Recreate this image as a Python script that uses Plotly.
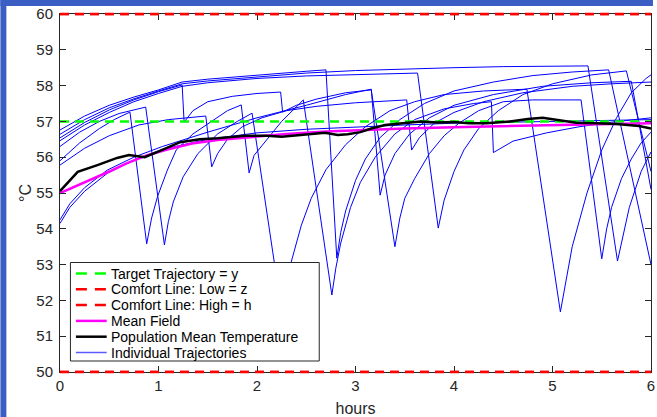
import plotly.graph_objects as go

# ---------------- data ----------------
x_ticks = [0, 1, 2, 3, 4, 5, 6]
y_ticks = [50, 51, 52, 53, 54, 55, 56, 57, 58, 59, 60]

target_level = 57.0
comfort_low = 50.0
comfort_high = 60.0
time_span = [0, 6]

legend_labels = ["Target Trajectory = y", "Comfort Line: Low = z", "Comfort Line: High = h",
                 "Mean Field", "Population Mean Temperature", "Individual Trajectories"]

mean_field_t = [0, 0.17, 0.33, 0.5, 0.67, 0.88, 1.1, 1.34, 1.6, 1.88, 2.3, 2.7, 3.02, 3.5, 4.0, 4.33, 5.0, 5.5, 6.0]
mean_field_T = [55.0, 55.2, 55.38, 55.6, 55.82, 56.05, 56.22, 56.38, 56.48, 56.55, 56.65, 56.72, 56.76, 56.8, 56.84, 56.86, 56.9, 56.92, 56.95]

pop_mean_t = [0, 0.08, 0.18, 0.38, 0.58, 0.7, 0.78, 0.86, 0.99, 1.12, 1.22, 1.42, 1.6, 1.88, 2.1, 2.25, 2.45, 2.69, 2.82, 2.92, 3.05, 3.16, 3.3, 3.5, 3.66, 3.83, 4.0, 4.15, 4.33, 4.57, 4.75, 4.9, 5.04, 5.24, 5.45, 5.65, 5.88, 6.0]
pop_mean_T = [55.05, 55.3, 55.59, 55.78, 55.98, 56.06, 56.04, 56.0, 56.15, 56.31, 56.42, 56.5, 56.53, 56.6, 56.6, 56.57, 56.62, 56.68, 56.62, 56.64, 56.7, 56.8, 56.9, 56.95, 57.0, 56.97, 56.98, 56.95, 56.95, 57.0, 57.07, 57.1, 57.05, 56.96, 56.95, 56.93, 56.87, 56.8]

traj1_t = [0, 0.25, 0.5, 0.75, 1.0, 1.24, 1.5, 2.0, 2.5, 2.70, 2.81, 2.85, 2.9, 3.0, 3.1, 3.25, 3.45, 3.7, 4.0, 4.4, 4.8, 5.2, 5.57, 6.0]
traj1_T = [56.76, 57.15, 57.45, 57.68, 57.88, 58.1, 58.18, 58.3, 58.4, 58.44, 53.18, 53.9, 54.5, 55.35, 55.95, 56.55, 57.05, 57.5, 57.85, 58.1, 58.28, 58.38, 58.44, 53.0]

traj2_t = [0, 0.25, 0.5, 0.75, 1.0, 1.24, 1.5, 2.0, 2.5, 3.0, 3.5, 4.0, 4.5, 5.36, 5.66, 5.72, 5.78, 5.84, 5.9, 6.0]
traj2_T = [56.64, 57.05, 57.38, 57.63, 57.85, 58.05, 58.13, 58.25, 58.35, 58.42, 58.47, 58.5, 58.53, 58.55, 53.1, 53.9, 54.6, 55.1, 55.6, 56.15]

traj3_t = [0, 0.25, 0.5, 0.75, 1.0, 1.24, 1.26, 1.35, 1.5, 1.75, 2.0, 2.24, 2.26, 2.4, 2.6, 2.9, 3.16, 3.40, 3.45, 3.5, 3.6, 3.75, 3.9, 4.05, 4.25, 4.5, 4.8, 5.29, 5.50, 5.55, 5.6, 5.7, 5.8, 5.9, 6.0]
traj3_T = [56.54, 56.97, 57.32, 57.6, 57.83, 58.02, 56.98, 57.3, 57.55, 57.7, 57.78, 57.82, 57.26, 57.45, 57.62, 57.8, 57.88, 53.5, 54.3, 54.85, 55.4, 56.1, 56.6, 56.95, 57.3, 57.55, 57.6, 57.6, 53.16, 54.0, 54.6, 55.4, 55.95, 56.4, 56.7]

traj4_t = [0, 0.25, 0.5, 0.75, 1.0, 1.24, 1.5, 2.0, 2.5, 3.0, 3.63, 3.84, 3.9, 4.0, 4.1, 4.25, 4.45, 4.7, 5.0, 5.4, 5.75, 6.0]
traj4_T = [56.46, 56.9, 57.25, 57.55, 57.78, 57.98, 58.08, 58.2, 58.27, 58.31, 58.35, 54.02, 54.8, 55.6, 56.2, 56.8, 57.3, 57.75, 58.05, 58.3, 58.41, 55.6]

traj5_t = [0, 0.2, 0.4, 0.6, 0.87, 1.06, 1.1, 1.15, 1.25, 1.4, 1.6, 1.8, 1.95, 2.26, 2.3, 2.35, 2.45, 2.55, 2.7, 2.9, 3.1, 3.35, 3.6, 3.9, 4.3, 4.74, 5.08, 5.2, 5.35, 5.5, 5.65, 5.8, 5.95, 6.0]
traj5_T = [56.3, 56.7, 57.0, 57.22, 57.4, 53.55, 54.2, 54.75, 55.45, 56.1, 56.65, 57.0, 57.23, 51.5, 52.4, 53.1, 54.1, 54.85, 55.65, 56.35, 56.85, 57.3, 57.55, 57.75, 57.85, 57.9, 51.68, 53.5, 55.0, 56.2, 57.1, 57.8, 58.2, 58.3]

traj6_t = [0, 0.2, 0.4, 0.55, 0.71, 0.88, 0.93, 0.99, 1.09, 1.18, 1.35, 1.51, 1.7, 1.84, 1.92, 1.97, 2.09, 2.25, 2.47, 2.76, 2.8, 2.85, 2.95, 3.05, 3.2, 3.4, 3.6, 3.9, 4.2, 4.38, 4.40, 4.6, 4.94, 5.27, 5.6, 6.0]
traj6_T = [55.9, 56.4, 56.8, 57.05, 57.26, 53.58, 54.3, 54.9, 55.64, 56.2, 56.65, 56.95, 57.3, 57.46, 55.56, 56.05, 56.45, 57.0, 57.6, 52.15, 52.9, 53.6, 54.6, 55.3, 56.0, 56.65, 57.05, 57.35, 57.5, 57.55, 56.13, 56.45, 56.68, 56.85, 56.98, 57.1]

traj7_t = [0, 0.25, 0.5, 0.8, 1.1, 1.48, 1.54, 1.6, 1.7, 1.85, 2.05, 2.3, 2.6, 3.0, 3.52, 3.57, 3.65, 3.8, 4.0, 4.3, 4.7, 5.2, 5.6, 6.0]
traj7_T = [55.78, 56.25, 56.6, 56.9, 57.05, 57.15, 55.73, 56.1, 56.5, 56.85, 57.1, 57.3, 57.42, 57.52, 57.6, 56.2, 56.55, 56.95, 57.25, 57.55, 57.8, 57.98, 58.05, 58.1]

traj8_t = [0, 0.1, 0.25, 0.48, 0.75, 1.04, 1.5, 2.0, 2.5, 2.9, 3.16, 3.25, 3.3, 3.4, 3.55, 3.75, 4.0, 4.4, 4.9, 5.4, 5.8, 6.0]
traj8_T = [54.25, 54.7, 55.15, 55.64, 56.0, 56.3, 56.7, 57.1, 57.45, 57.75, 57.9, 54.94, 55.5, 56.1, 56.65, 57.1, 57.45, 57.75, 57.98, 58.08, 58.12, 55.1]

traj9_t = [0, 0.1, 0.25, 0.48, 0.75, 1.04, 1.5, 2.0, 2.5, 3.0, 3.5, 4.0, 5.0, 6.0]
traj9_T = [54.15, 54.6, 55.05, 55.55, 55.92, 56.22, 56.5, 56.68, 56.78, 56.85, 56.9, 56.95, 57.0, 57.05]

trajectories = [
    (traj1_t, traj1_T), (traj2_t, traj2_T), (traj3_t, traj3_T),
    (traj4_t, traj4_T), (traj5_t, traj5_T), (traj6_t, traj6_T),
    (traj7_t, traj7_T), (traj8_t, traj8_T), (traj9_t, traj9_T),
]

# ---------------- figure ----------------
FONT = "Liberation Sans, Arial, Helvetica, sans-serif"
TXT = "#262626"
BLUE = "#0000ff"
DASH = "9px,6px"
fig = go.Figure()

for i, (tt, TT) in enumerate(trajectories):
    fig.add_trace(go.Scatter(x=tt, y=TT, mode="lines", line=dict(color=BLUE, width=1),
                             name=legend_labels[5], showlegend=False, hoverinfo="skip"))

fig.add_trace(go.Scatter(x=time_span, y=[target_level] * 2, mode="lines",
                         line=dict(color="#00ff00", width=2.5, dash=DASH),
                         name=legend_labels[0], showlegend=False))
fig.add_trace(go.Scatter(x=time_span, y=[comfort_low] * 2, mode="lines",
                         line=dict(color="#ff0000", width=2.5, dash=DASH),
                         name=legend_labels[1], showlegend=False))
fig.add_trace(go.Scatter(x=time_span, y=[comfort_high] * 2, mode="lines",
                         line=dict(color="#ff0000", width=2.5, dash=DASH),
                         name=legend_labels[2], showlegend=False))
fig.add_trace(go.Scatter(x=mean_field_t, y=mean_field_T, mode="lines",
                         line=dict(color="#ff00ff", width=2.5),
                         name=legend_labels[3], showlegend=False))
fig.add_trace(go.Scatter(x=pop_mean_t, y=pop_mean_T, mode="lines",
                         line=dict(color="#000000", width=2.5),
                         name=legend_labels[4], showlegend=False))

# pixel helpers
W, H = 657, 417
L, R, T, B = 60, 2, 14, 45
pw, ph = W - L - R, H - T - B
def px_x(p): return (p - L) / pw
def px_y(p): return (H - B - p) / ph

shapes = [
    dict(type="rect", xref="paper", yref="paper", x0=px_x(0), x1=px_x(W), y0=px_y(0), y1=px_y(6),
         fillcolor="#3a5ec4", line=dict(width=0), layer="below"),
    dict(type="rect", xref="paper", yref="paper", x0=px_x(0), x1=px_x(6), y0=px_y(H), y1=px_y(0),
         fillcolor="#3a5ec4", line=dict(width=0), layer="below"),
]
for lvl in (comfort_low, comfort_high):
    yp = (lvl - 50) / 10
    shapes.append(dict(type="line", xref="paper", yref="paper", x0=0, x1=1, y0=yp, y1=yp,
                       line=dict(color="#ff0000", width=2.5, dash=DASH), layer="above"))

# manual legend (compact rows as in the reference)
shapes.append(dict(type="rect", xref="paper", yref="paper",
                   x0=px_x(70.5), x1=px_x(321), y0=px_y(361), y1=px_y(262.5),
                   fillcolor="white", line=dict(color=TXT, width=1), layer="above"))
leg_styles = [("#00ff00", 2.5, "11px,8px"), ("#ff0000", 2.5, "11px,8px"), ("#ff0000", 2.5, "11px,8px"),
              ("#ff00ff", 2.5, "solid"), ("#000000", 2.5, "solid"), ("#5a5aff", 1.5, "solid")]
row_y = [273.5, 289.3, 305.1, 320.9, 336.7, 352.5]
annotations = []
for (col, wd, ds), ry, lab in zip(leg_styles, row_y, legend_labels):
    shapes.append(dict(type="line", xref="paper", yref="paper",
                       x0=px_x(76), x1=px_x(107), y0=px_y(ry), y1=px_y(ry),
                       line=dict(color=col, width=wd, dash=ds), layer="above"))
    annotations.append(dict(xref="paper", yref="paper", x=px_x(109), y=px_y(ry),
                            xanchor="left", yanchor="middle", text=lab, showarrow=False,
                            font=dict(family=FONT, size=14, color="#000000")))

fig.update_layout(
    width=W, height=H,
    margin=dict(l=L, r=R, t=T, b=B),
    paper_bgcolor="white", plot_bgcolor="white",
    font=dict(family=FONT, size=15, color=TXT),
    shapes=shapes, annotations=annotations,
    showlegend=False,
)
fig.update_xaxes(range=time_span, tickvals=x_ticks, ticks="inside", ticklen=6,
                 tickcolor=TXT, showline=True, linecolor=TXT, linewidth=1, mirror="ticks",
                 showgrid=False, zeroline=False, ticklabeloverflow="allow",
                 title=dict(text="hours", font=dict(size=16, color=TXT), standoff=9))
fig.update_yaxes(range=[50, 60], tickvals=y_ticks, ticks="inside", ticklen=6,
                 tickcolor=TXT, showline=True, linecolor=TXT, linewidth=1, mirror="ticks",
                 showgrid=False, zeroline=False, ticklabelstandoff=3,
                 title=dict(text="°C", font=dict(size=16, color=TXT), standoff=0))

fig.write_html("out.html")
